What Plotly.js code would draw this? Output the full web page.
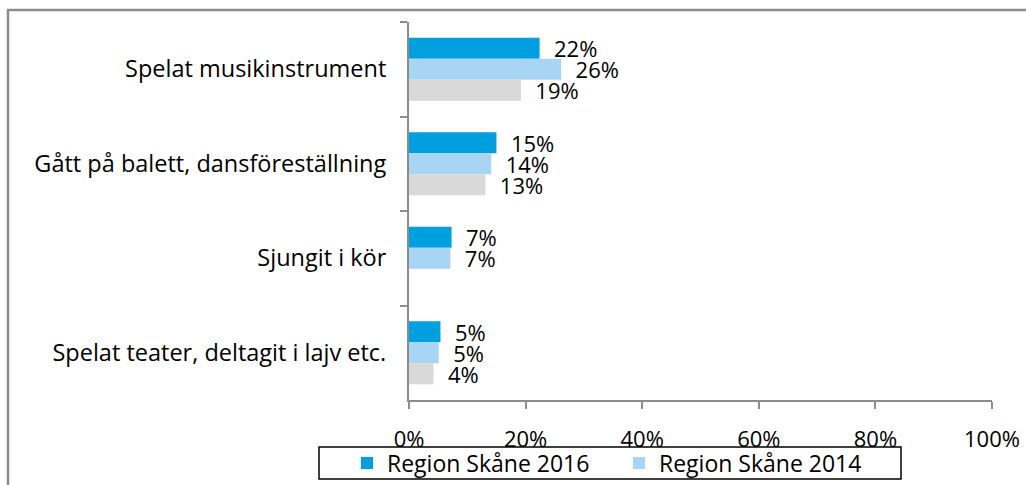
<!DOCTYPE html>
<html>
<head>
<meta charset="utf-8">
<script src="https://cdn.plot.ly/plotly-3.0.1.min.js"></script>
<style>html,body{margin:0;padding:0;background:#fff;}#chart{width:1026px;height:485px;}</style>
</head>
<body>
<div id="chart"></div>
<script>
const categories = ["Spelat musikinstrument", "Gått på balett, dansföreställning", "Sjungit i kör", "Spelat teater, deltagit i lajv etc."];
const seriesNames = ["Region Skåne 2016", "Region Skåne 2014", ""];
const values2016 = [0.224, 0.150, 0.073, 0.054];
const values2014 = [0.261, 0.141, 0.071, 0.051];
const valuesGrey = [0.192, 0.131, null, 0.042];
const xTickVals = [0, 0.2, 0.4, 0.6, 0.8, 1.0];
const xTickText = ["0%", "20%", "40%", "60%", "80%", "100%"];

const FONT = "'Open Sans', 'Noto Sans', sans-serif";
const FS = 22;
const colors = ["#009FE0", "#A9D5F5", "#D9D9D9"];
const pad = "\u00a0\u00a0";

function mk(vals, name, color, showlegend) {
  return {
    type: "bar", orientation: "h", y: categories, x: vals, name: name,
    marker: {color: color},
    text: vals.map(v => v == null ? "" : pad + Math.round(v * 100) + "%"),
    textposition: "outside", cliponaxis: false, constraintext: "none",
    textfont: {family: FONT, size: FS, color: "#000"},
    showlegend: showlegend, hoverinfo: "skip"
  };
}
const data = [
  mk(values2016, seriesNames[0], colors[0], true),
  mk(values2014, seriesNames[1], colors[1], true),
  mk(valuesGrey, seriesNames[2], colors[2], false)
];

const L = 409, R = 992, T = 22, B = 400, W = 1026, H = 485;
const pw = R - L, ph = B - T;
const px = x => (x - L) / pw;
const py = y => (B - y) / ph;

const layout = {
  width: W, height: H,
  margin: {l: L, r: W - R, t: T, b: H - B, pad: 0, autoexpand: false},
  paper_bgcolor: "#fff", plot_bgcolor: "#fff",
  font: {family: FONT, size: FS, color: "#000"},
  barmode: "group", bargap: 0.333, bargroupgap: 0,
  xaxis: {
    range: [0, 1], tickvals: xTickVals, ticktext: xTickText,
    showgrid: false, zeroline: false, automargin: false,
    showline: true, linecolor: "#8C8C8C", linewidth: 2,
    ticks: "outside", ticklen: 7, tickwidth: 2, tickcolor: "#8C8C8C",
    ticklabelstandoff: 12,
    tickfont: {family: FONT, size: FS, color: "#000"}, fixedrange: true
  },
  yaxis: {
    autorange: "reversed", type: "category", automargin: false,
    showgrid: false, zeroline: false,
    showline: true, linecolor: "#8C8C8C", linewidth: 2,
    ticks: "outside", ticklen: 7, tickwidth: 2, tickcolor: "#8C8C8C",
    tickson: "boundaries", ticklabelstandoff: 16,
    tickfont: {family: FONT, size: 23.5, color: "#000"}, fixedrange: true
  },
  showlegend: true,
  legend: {
    orientation: "h", x: px(347), xanchor: "left", y: py(463), yanchor: "middle",
    bgcolor: "rgba(0,0,0,0)", borderwidth: 0,
    font: {family: FONT, size: 23, color: "#000"},
    entrywidth: 227, itemclick: false, itemdoubleclick: false
  },
  shapes: [
    {type: "path", xref: "paper", yref: "paper",
     path: `M ${px(8)} ${py(H + 20)} L ${px(8)} ${py(10)} L ${px(W + 20)} ${py(10)}`,
     line: {color: "#8C8C8C", width: 2.5}},
    {type: "rect", xref: "paper", yref: "paper",
     x0: px(319), x1: px(901), y0: py(479), y1: py(447),
     line: {color: "#000", width: 1.5}, fillcolor: "rgba(0,0,0,0)"}
  ]
};

Plotly.newPlot("chart", data, layout, {displayModeBar: false, staticPlot: true});
</script>
</body>
</html>
